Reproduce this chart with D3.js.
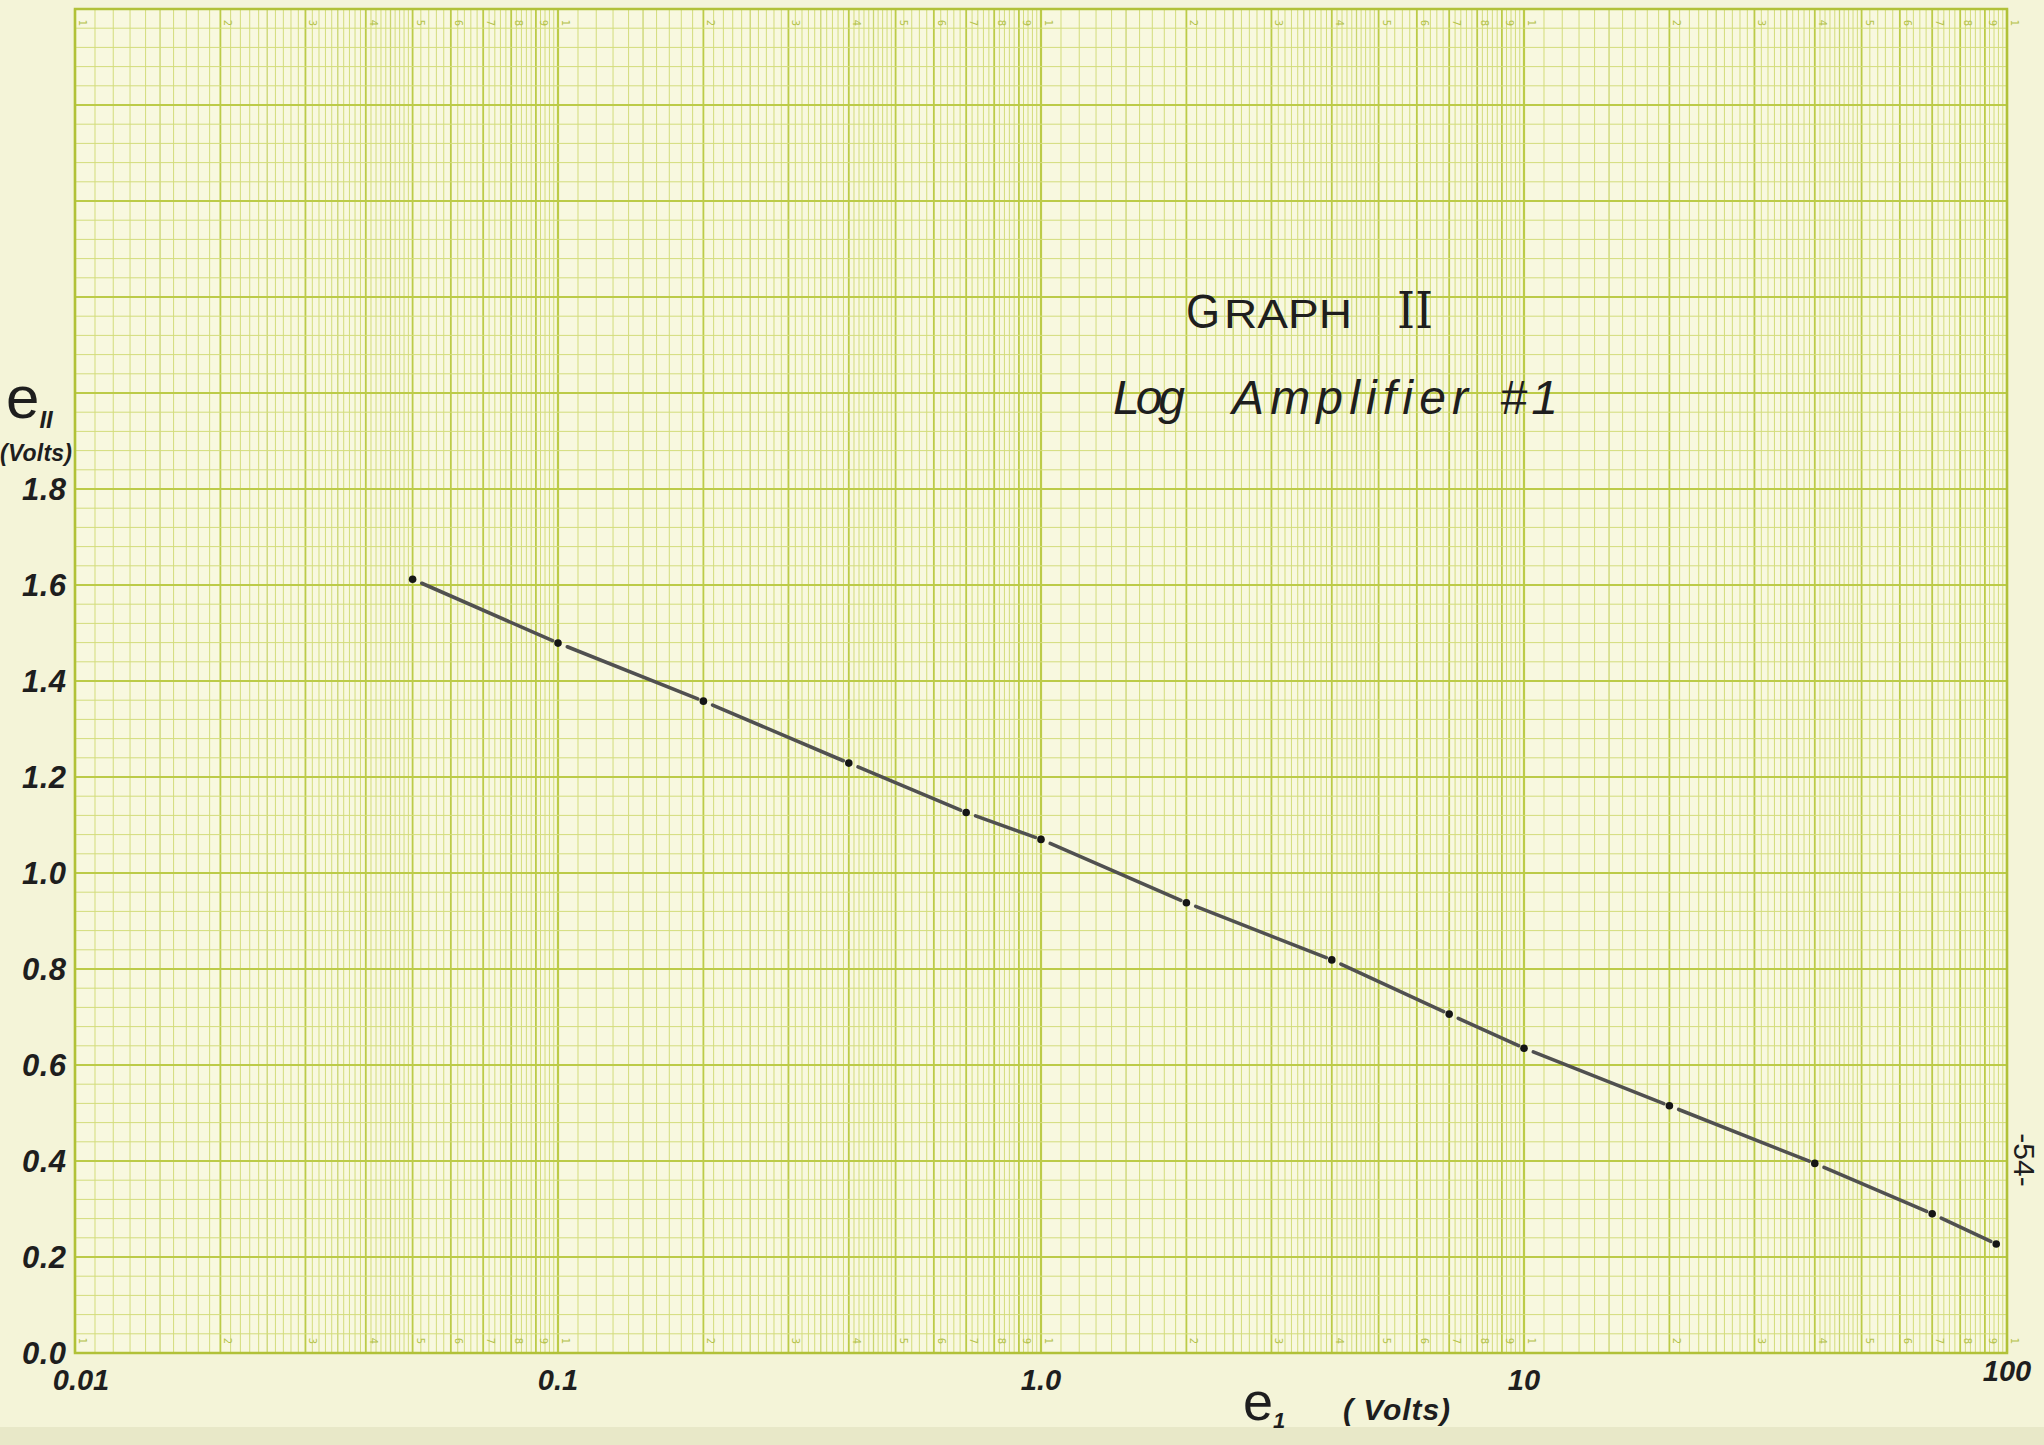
<!DOCTYPE html>
<html>
<head>
<meta charset="utf-8">
<script src="https://cdn.jsdelivr.net/npm/d3@7"></script>
<style>
  body { margin: 0; background: #f3f3d6; }
  svg { display: block; }
  .hand { font-family: "Liberation Sans", "DejaVu Sans", sans-serif; font-style: italic; fill: #1e1e1e; }
</style>
</head>
<body>
<div id="vis_container"></div>
<script>
// Log amplifier #1: input voltage e1 (log axis) against output voltage eII.
var e1_volts = [0.05, 0.1, 0.2, 0.4, 0.7, 1, 2, 4, 7, 10, 20, 40, 70, 95];
var e2_volts = [1.612, 1.479, 1.358, 1.229, 1.126, 1.070, 0.938, 0.819, 0.706, 0.635, 0.515, 0.395, 0.290, 0.227];

// Hand written tick labels.
var x_tick_values = [0.01, 0.1, 1, 10, 100];
var x_tick_labels = ["0.01", "0.1", "1.0", "10", "100"];
var y_tick_values = [0, 0.2, 0.4, 0.6, 0.8, 1.0, 1.2, 1.4, 1.6, 1.8];
var y_tick_labels = ["0.0", "0.2", "0.4", "0.6", "0.8", "1.0", "1.2", "1.4", "1.6", "1.8"];

var width = 2044;
var height = 1445;

// paper frame (note: "top" is taken by window.top, so prefix these)
var plot_left = 75, plot_right = 2007, plot_top = 9, plot_bottom = 1353;

var x = d3.scaleLog()
	.domain([0.01, 100])
	.range([plot_left, plot_right]);

var y = d3.scaleLinear()
	.domain([0, 2.8])
	.range([plot_bottom, plot_top]);

var thin_green = "#d3dc7c";
var mid_green = "#bccb48";
var bold_green = "#b1c138";

var svg = d3.select("#vis_container")
	.append("svg")
	.attr("width", width)
	.attr("height", height);

svg.append("rect")
	.attr("width", width)
	.attr("height", height)
	.attr("fill", "#f4f4d8");

svg.append("rect")
	.attr("x", 0)
	.attr("y", 1427)
	.attr("width", width)
	.attr("height", 18)
	.attr("fill", "#e8e8c8");

svg.append("rect")
	.attr("x", plot_left)
	.attr("y", plot_top)
	.attr("width", plot_right - plot_left)
	.attr("height", plot_bottom - plot_top)
	.attr("fill", "#f8f8df");

// ---- printed log-linear grid (the paper itself) ----
var grid = svg.append("g");

// vertical rules: 0.1 steps from 1 to 5, 0.2 steps from 5 to 10, per decade
var vlines = [];
[0.01, 0.1, 1, 10].forEach(function(base) {
	for (var k = 10; k < 100; k += (k < 50 ? 1 : 2)) {
		var kind = "thin";
		if (k == 10) kind = "bold";
		else if (k % 10 == 0) kind = "mid";
		else if (k == 15 || k == 25 || k == 35 || k == 45) kind = "half";
		vlines.push({v: base * k / 10, kind: kind, digit: k / 10});
	}
});
vlines.push({v: 100, kind: "bold", digit: 1});

grid.selectAll(".vline").data(vlines).enter().append("line")
	.attr("class", "vline")
	.attr("x1", function(d) { return x(d.v); })
	.attr("x2", function(d) { return x(d.v); })
	.attr("y1", plot_top)
	.attr("y2", plot_bottom)
	.attr("stroke", function(d) { return d.kind == "thin" ? thin_green : (d.kind == "half" ? "#cad570" : mid_green); })
	.attr("stroke-width", function(d) { return d.kind == "bold" ? 2.2 : (d.kind == "mid" ? 1.8 : (d.kind == "half" ? 1.3 : 1)); });

// horizontal rules every 0.04, heavier every 0.2
var hlines = d3.range(0, 71).map(function(i) { return {v: i * 0.04, major: i % 5 == 0}; });

grid.selectAll(".hline").data(hlines).enter().append("line")
	.attr("class", "hline")
	.attr("x1", plot_left)
	.attr("x2", plot_right)
	.attr("y1", function(d) { return y(d.v); })
	.attr("y2", function(d) { return y(d.v); })
	.attr("stroke", function(d) { return d.major ? mid_green : thin_green; })
	.attr("stroke-width", function(d) { return d.major ? 1.8 : 1; });

// little printed digits on the cycle lines, top and bottom
var digits = vlines.filter(function(d) { return d.kind == "mid" || d.kind == "bold"; });
[plot_top + 14, plot_bottom - 12].forEach(function(yy) {
	grid.selectAll(null).data(digits).enter().append("text")
		.attr("transform", function(d) { return "translate(" + (x(d.v) + 4) + "," + yy + ") rotate(90)"; })
		.attr("text-anchor", "middle")
		.style("font-family", "DejaVu Sans")
		.style("font-size", "10px")
		.style("fill", "#b4c24a")
		.text(function(d) { return d.digit; });
});

// frame
svg.append("rect")
	.attr("x", plot_left)
	.attr("y", plot_top)
	.attr("width", plot_right - plot_left)
	.attr("height", plot_bottom - plot_top)
	.attr("fill", "none")
	.attr("stroke", bold_green)
	.attr("stroke-width", 2.5);

// ---- hand lettering ----
svg.selectAll(".ylab").data(y_tick_values).enter().append("text")
	.attr("class", "hand ylab")
	.attr("x", 66)
	.attr("y", function(d) { return y(d) + 11; })
	.attr("text-anchor", "end")
	.attr("textLength", 44)
	.attr("lengthAdjust", "spacing")
	.style("font-size", "31px")
	.style("font-weight", "bold")
	.text(function(d, i) { return y_tick_labels[i]; });

svg.selectAll(".xlab").data(x_tick_values).enter().append("text")
	.attr("class", "hand xlab")
	.attr("x", function(d) { return x(d) + (d == 0.01 ? 6 : 0); })
	.attr("y", function(d) { return d == 100 ? 1381 : 1390; })
	.attr("text-anchor", "middle")
	.style("font-size", "29px")
	.style("font-weight", "bold")
	.text(function(d, i) { return x_tick_labels[i]; });

// y axis title
var ytitle = svg.append("text").attr("class", "hand").attr("x", 6).attr("y", 418);
ytitle.append("tspan").style("font-size", "60px").style("font-style", "normal").text("e");
ytitle.append("tspan").attr("dy", 10).style("font-size", "24px").style("font-weight", "bold").text("II");

svg.append("text")
	.attr("class", "hand")
	.attr("x", 0)
	.attr("y", 461)
	.attr("textLength", 72)
	.attr("lengthAdjust", "spacing")
	.style("font-size", "23px")
	.style("font-weight", "bold")
	.text("(Volts)");

// x axis title
var xtitle = svg.append("text").attr("class", "hand").attr("x", 1243).attr("y", 1420);
xtitle.append("tspan").style("font-size", "54px").style("font-style", "normal").text("e");
xtitle.append("tspan").attr("dy", 8).style("font-size", "22px").style("font-weight", "bold").text("1");

svg.append("text")
	.attr("class", "hand")
	.attr("x", 1343)
	.attr("y", 1420)
	.attr("textLength", 107)
	.attr("lengthAdjust", "spacing")
	.style("font-size", "30px")
	.style("font-weight", "bold")
	.text("( Volts)");

// title, word by word so the wide hand spacing is kept
var title_words = [
	{text: "G", x: 1186, y: 328, size: 48, len: 34, style: "normal", adj: "spacingAndGlyphs"},
	{text: "RAPH", x: 1224, y: 328, size: 40, len: 128, style: "normal", adj: "spacingAndGlyphs"},
	{text: "II", x: 1397, y: 328, size: 50, len: 36, style: "normal", adj: "spacingAndGlyphs"},
	{text: "Log", x: 1113, y: 414, size: 48, len: 72, style: "italic", adj: "spacing"},
	{text: "Amplifier", x: 1232, y: 414, size: 48, len: 236, style: "italic", adj: "spacing"},
	{text: "#1", x: 1500, y: 414, size: 48, len: 58, style: "italic", adj: "spacing"}
];

svg.selectAll(".title").data(title_words).enter().append("text")
	.attr("class", "hand title")
	.attr("x", function(d) { return d.x; })
	.attr("y", function(d) { return d.y; })
	.attr("textLength", function(d) { return d.len; })
	.attr("lengthAdjust", function(d) { return d.adj; })
	.style("font-size", function(d) { return d.size + "px"; })
	.style("font-style", function(d) { return d.style; })
	.style("font-family", function(d) { return d.text == "II" ? "DejaVu Serif" : null; })
	.text(function(d) { return d.text; });

// page number
svg.append("text")
	.attr("class", "hand")
	.attr("transform", "translate(2014,1160) rotate(90)")
	.attr("text-anchor", "middle")
	.style("font-size", "30px")
	.style("font-style", "normal")
	.text("-54-");

// ---- plotted data: pen segments that stop short of each dot ----
var pts = e1_volts.map(function(v, i) { return {px: x(v), py: y(e2_volts[i])}; });
var gap = 10;
var segs = [];
for (var i = 0; i < pts.length - 1; i++) {
	var a = pts[i], b = pts[i + 1];
	var dx = b.px - a.px, dy = b.py - a.py;
	var len = Math.sqrt(dx * dx + dy * dy);
	var ux = dx / len, uy = dy / len;
	segs.push({x1: a.px + ux * gap, y1: a.py + uy * gap, x2: b.px - ux * 6, y2: b.py - uy * 6});
}

svg.selectAll(".seg").data(segs).enter().append("line")
	.attr("class", "seg")
	.attr("x1", function(d) { return d.x1; })
	.attr("y1", function(d) { return d.y1; })
	.attr("x2", function(d) { return d.x2; })
	.attr("y2", function(d) { return d.y2; })
	.attr("stroke", "#505050")
	.attr("stroke-width", 3.6)
	.attr("stroke-linecap", "round");

svg.selectAll(".pt").data(e1_volts).enter().append("circle")
	.attr("class", "pt")
	.attr("cx", function(d) { return x(d); })
	.attr("cy", function(d, i) { return y(e2_volts[i]); })
	.attr("r", 3.8)
	.attr("fill", "#151515");
</script>
</body>
</html>
